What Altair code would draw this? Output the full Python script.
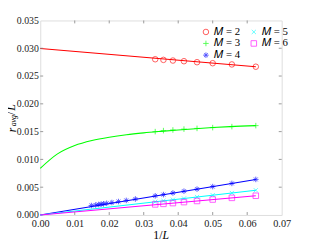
import altair as alt
import pandas as pd

# ---- data ----
inv_L_std = [1/30, 1/28, 1/26, 1/24, 1/22, 1/20, 1/18, 1/16]
m2_y = [0.02802, 0.02791, 0.02779, 0.02767, 0.02749, 0.02731, 0.02709, 0.02668]
m3_y = [0.01500, 0.01518, 0.01530, 0.01545, 0.01558, 0.01572, 0.01590, 0.01608]
m4_x = [0.01482, 0.01607, 0.01692, 0.01766, 0.01834, 0.01927, 0.02077, 0.02267,
        0.02494, 0.02758, 1/30, 1/28, 1/26, 1/24, 1/22, 1/20, 1/18, 1/16]
m4_y = [0.00170, 0.00180, 0.00189, 0.00195, 0.00201, 0.00210, 0.00224, 0.00242,
        0.00262, 0.00288, 0.00345, 0.00367, 0.00396, 0.00428, 0.00465, 0.00511, 0.00568, 0.00640]
m5_y = [0.00238, 0.00254, 0.00274, 0.00297, 0.00324, 0.00356, 0.00396, 0.00445]
m6_y = [0.00190, 0.00200, 0.00214, 0.00232, 0.00252, 0.00278, 0.00308, 0.00346]

# fitted curves
fit2_x = [0.0, 0.0625]
fit2_y = [0.02995, 0.02668]
fit3_x = [0.0, 0.005, 0.01, 0.015, 0.02, 0.025, 0.03, 0.035, 0.04, 0.045, 0.05, 0.055, 0.0625]
fit3_y = [0.0084, 0.0110, 0.0125, 0.0134, 0.0140, 0.01445, 0.01478, 0.01505, 0.0153,
          0.01553, 0.01573, 0.01590, 0.01608]
fit4_y = [0.0, 0.00640]
fit5_y = [0.0, 0.00445]
fit6_y = [0.0, 0.00346]
fit_lin_x = [0.0, 0.0625]

labels = ["𝑀 = 2", "𝑀 = 3", "𝑀 = 4", "𝑀 = 5", "𝑀 = 6"]
colors = ["#ff0000", "#00ff00", "#0000ff", "#00ffff", "#ff00ff"]

x_ticks = [0.0, 0.01, 0.02, 0.03, 0.04, 0.05, 0.06, 0.07]
y_ticks = [0.0, 0.005, 0.01, 0.015, 0.02, 0.025, 0.03, 0.035]

# ---- tables ----
rows = []
for lab, xs_, ys_ in [(labels[0], inv_L_std, m2_y), (labels[1], inv_L_std, m3_y),
                      (labels[2], m4_x, m4_y), (labels[3], inv_L_std, m5_y),
                      (labels[4], inv_L_std, m6_y)]:
    for a, b in zip(xs_, ys_):
        rows.append({"M": lab, "x": a, "y": b})
pts = pd.DataFrame(rows)

fits = [(fit2_x, fit2_y), (fit3_x, fit3_y), (fit_lin_x, fit4_y),
        (fit_lin_x, fit5_y), (fit_lin_x, fit6_y)]

W, H = 247, 199
SERIF = "Liberation Serif"
GRAY = "#808080"

xs = alt.Scale(domain=[0, 0.07], nice=False, zero=False)
ys = alt.Scale(domain=[0, 0.035], nice=False, zero=False)

xaxis = alt.Axis(values=x_ticks, format=".2f", ticks=False, domain=False, grid=False,
                 labelFont=SERIF, labelFontSize=10.5, labelColor="#1a1a1a",
                 labelPadding=4, title=None, labelFlush=False, labelOverlap=False)
yaxis = alt.Axis(values=y_ticks, format=".3f", ticks=False, domain=False, grid=False,
                 labelFont=SERIF, labelFontSize=10, labelColor="#1a1a1a",
                 labelPadding=2, title=None, labelOverlap=False, labelFlush=False)

layers = []
for (fx, fy), c in zip(fits, colors):
    d = pd.DataFrame({"x": fx, "y": fy})
    layers.append(
        alt.Chart(d).mark_line(color=c, strokeWidth=1.1, interpolate="monotone").encode(
            x=alt.X("x:Q", scale=xs, axis=xaxis),
            y=alt.Y("y:Q", scale=ys, axis=yaxis),
        )
    )

shape_map = {
    labels[0]: "circle",
    labels[1]: "M-1,0L1,0M0,-1L0,1",
    labels[2]: "M-1,0L1,0M0,-1L0,1M-0.7,-0.7L0.7,0.7M-0.7,0.7L0.7,-0.7",
    labels[3]: "M-0.75,-0.75L0.75,0.75M-0.75,0.75L0.75,-0.75",
    labels[4]: "square",
}

points = alt.Chart(pts).mark_point(filled=False, strokeWidth=0.9, size=32, opacity=0.7).encode(
    x=alt.X("x:Q", scale=xs, axis=xaxis),
    y=alt.Y("y:Q", scale=ys, axis=yaxis),
    color=alt.Color("M:N", scale=alt.Scale(domain=labels, range=colors),
                    legend=alt.Legend(title=None, orient="none", legendX=164, legendY=6,
                                      columns=2, labelFont=SERIF, labelFontSize=11,
                                      labelColor="#000000", symbolSize=32,
                                      symbolStrokeWidth=0.9, symbolOpacity=0.7,
                                      rowPadding=0, columnPadding=8, labelOffset=3)),
    shape=alt.Shape("M:N", scale=alt.Scale(domain=labels,
                                           range=[shape_map[k] for k in labels])),
)
layers.append(points)

# inward ticks
tx = pd.DataFrame({"x": x_ticks[1:-1]})
ty = pd.DataFrame({"y": y_ticks[1:-1]})
TL = 3
tick_style = dict(color=GRAY, strokeWidth=0.8)
layers += [
    alt.Chart(tx).mark_rule(**tick_style).encode(x=alt.X("x:Q", scale=xs, axis=xaxis), y=alt.value(H), y2=alt.value(H - TL)),
    alt.Chart(tx).mark_rule(**tick_style).encode(x=alt.X("x:Q", scale=xs, axis=xaxis), y=alt.value(0), y2=alt.value(TL)),
    alt.Chart(ty).mark_rule(**tick_style).encode(y=alt.Y("y:Q", scale=ys, axis=yaxis), x=alt.value(0), x2=alt.value(TL)),
    alt.Chart(ty).mark_rule(**tick_style).encode(y=alt.Y("y:Q", scale=ys, axis=yaxis), x=alt.value(W), x2=alt.value(W - TL)),
]

# axis titles as text pieces
def txt(s, x, y, size=12, style="italic", angle=0, align="center"):
    return alt.Chart(pd.DataFrame({"s": [s]})).mark_text(
        font=SERIF, fontSize=size, fontStyle=style, angle=angle, align=align,
        baseline="middle", color="#000000").encode(
        text="s:N", x=alt.value(x), y=alt.value(y))

layers += [
    txt("1/", 125, 220, style="normal", align="right"),
    txt("L", 125, 220, align="left"),
    txt("r", -29, 112, angle=270),
    txt("avg", -27, 102.5, size=8, angle=270),
    txt("/", -30, 95, style="normal", angle=270),
    txt("L", -30, 89, angle=270),
]

chart = alt.layer(*layers).properties(
    width=W, height=H, autosize="none",
    padding={"left": 33, "top": 10, "right": 30, "bottom": 30},
).configure_view(stroke=GRAY, strokeWidth=1).configure_axis(
    labelOverlap=False
).configure(background="white")

chart.save("out.html", embed_options={"renderer": "svg", "actions": False})
